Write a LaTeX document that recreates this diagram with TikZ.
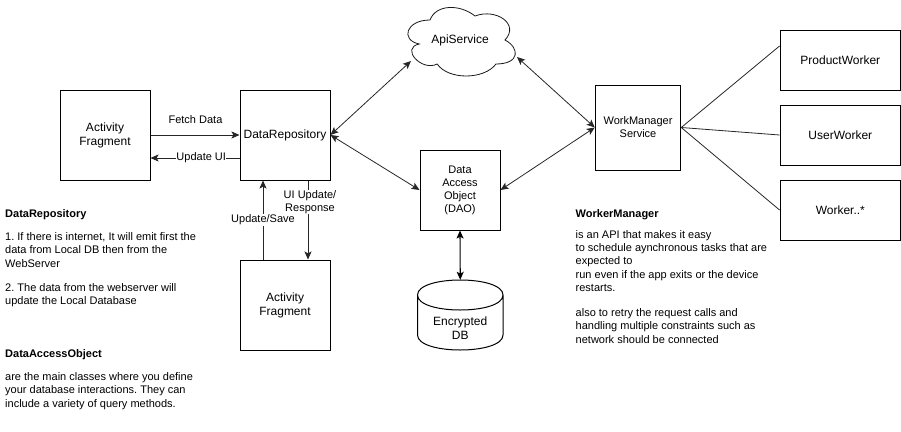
\documentclass[tikz,border=0pt]{standalone}
\usepackage{fontspec}
\setmainfont{Liberation Sans}
\usetikzlibrary{arrows.meta,calc}
\frenchspacing
\tikzset{
  mytip/.tip={Stealth[length=8pt,width=7pt,inset=1.8pt]},
  box/.style={draw=black,line width=1pt,minimum width=#1,inner sep=0pt,align=center,font=\fontsize{12}{13.8}\selectfont},
  smallbox/.style={box=#1,font=\fontsize{11}{13}\selectfont},
  plain/.style={inner sep=0pt,align=center,font=\fontsize{12}{13.8}\selectfont},
  conn/.style={line width=0.8pt,draw=black!85},
  single/.style={conn,-{mytip}},
  double/.style={conn,{mytip}-{mytip}},
  lbl/.style={inner sep=0.5pt,align=center,font=\fontsize{11}{13.3}\selectfont},
  note/.style={anchor=north west,inner sep=0pt,align=left,font=\fontsize{11}{13.3}\selectfont},
  notehead/.style={note,font=\fontsize{11}{13.3}\selectfont\bfseries}
}
\begin{document}
\begin{tikzpicture}[x=1pt,y=-1pt]
\useasboundingbox (0,0) rectangle (901,431);
% boxes
\node[box=90pt,minimum height=90pt] (af) at (105,135) {Activity\\Fragment};
\node[box=90pt,minimum height=90pt] (dr) at (285,135) {DataRepository};
\node[box=90pt,minimum height=90pt] (af2) at (285,305) {Activity\\Fragment};
\node[smallbox=80pt,minimum height=80pt] (dao) at (460,190) {Data\\Access\\Object\\(DAO)};
\node[smallbox=85.5pt,minimum height=85pt] (wm) at (638,127.5) {WorkManager\\Service};
\node[box=120.5pt,minimum height=60pt] (pw) at (840.3,60) {ProductWorker};
\node[box=120.5pt,minimum height=60pt] (uw) at (840.3,135) {UserWorker};
\node[box=120.5pt,minimum height=60pt] (ow) at (840.3,210) {Worker..*};
% cloud
\node[plain,minimum width=120pt,minimum height=80pt] (api) at (460,40) {ApiService};
\draw[line width=0.8pt,draw=black!90] (430,20)
  .. controls (406,20) and (400,40) .. (419.2,44)
  .. controls (400,48) and (421.6,72) .. (437.2,64)
  .. controls (448,80) and (484,80) .. (496,64)
  .. controls (520,64) and (520,48) .. (505,40)
  .. controls (520,24) and (496,8) .. (475,16)
  .. controls (460,4) and (436,4) .. (430,20) -- cycle;
% cylinder
\node[plain,minimum width=85.5pt,minimum height=70pt] (db) at (460.25,315) {};
\draw[line width=1pt] (417.5,295)
  .. controls (417.5,275) and (503,275) .. (503,295)
  -- (503,335)
  .. controls (503,355) and (417.5,355) .. (417.5,335) -- cycle
  (417.5,295) .. controls (417.5,315) and (503,315) .. (503,295);
\node[plain] (dbt) at (460.25,328) {Encrypted\\DB};
% connectors
\draw[single] (af.east) -- (dr.west);
\node[lbl] (fd) at (195.5,120) {Fetch Data};
\draw[single] ([yshift=-23pt]dr.west) -- node[lbl,fill=white,pos=.43] (uu) {Update UI} ([yshift=-23pt]af.east);
\draw[single] ([xshift=-22pt]af2.north) -- node[lbl,fill=white,pos=.5] (us) {Update/Save} ([xshift=-22pt]dr.south);
\draw[single] ([xshift=23pt]dr.south) -- node[lbl,fill=white,pos=.27,xshift=2pt] (ur) {UI Update/\\Response} ([xshift=23pt]af2.north);
\draw[double] (dr.east) -- ([shift={(-49,21)}]api.center);
\draw[double] (dr.east) -- (dao.west);
\draw[double] (dao.east) -- (wm.west);
\draw[double] ([shift={(57,17)}]api.center) -- (wm.west);
\draw[double,line width=1.1pt,draw=black] (dao.south) -- (db.north);
\draw[conn] (wm.east) -- ([yshift=14pt]pw.west);
\draw[conn] (wm.east) -- (uw.west);
\draw[conn] (wm.east) -- (ow.west);
% notes
\node[notehead] (n1) at (5,209) {DataRepository};
\node[note] (n2) at (5,232.5) {1. If there is internet, It will emit first the\\data from Local DB then from the\\WebServer};
\node[note] (n3) at (5,283) {2. The data from the webserver will\\update the Local Database};
\node[notehead] (n4) at (5,349) {DataAccessObject};
\node[note] (n5) at (5,372.5) {are the main classes where you define\\your database interactions. They can\\include a variety of query methods.};
\node[notehead] (n6) at (575.5,209) {WorkerManager};
\node[note] (n7) at (575.5,230) {is an API that makes it easy\\to schedule aynchronous tasks that are\\expected to\\run even if the app exits or the device\\restarts.};
\node[note] (n8) at (575.5,308.5) {also to retry the request calls and\\handling multiple constraints such as\\network should be connected};
\end{tikzpicture}
\end{document}
